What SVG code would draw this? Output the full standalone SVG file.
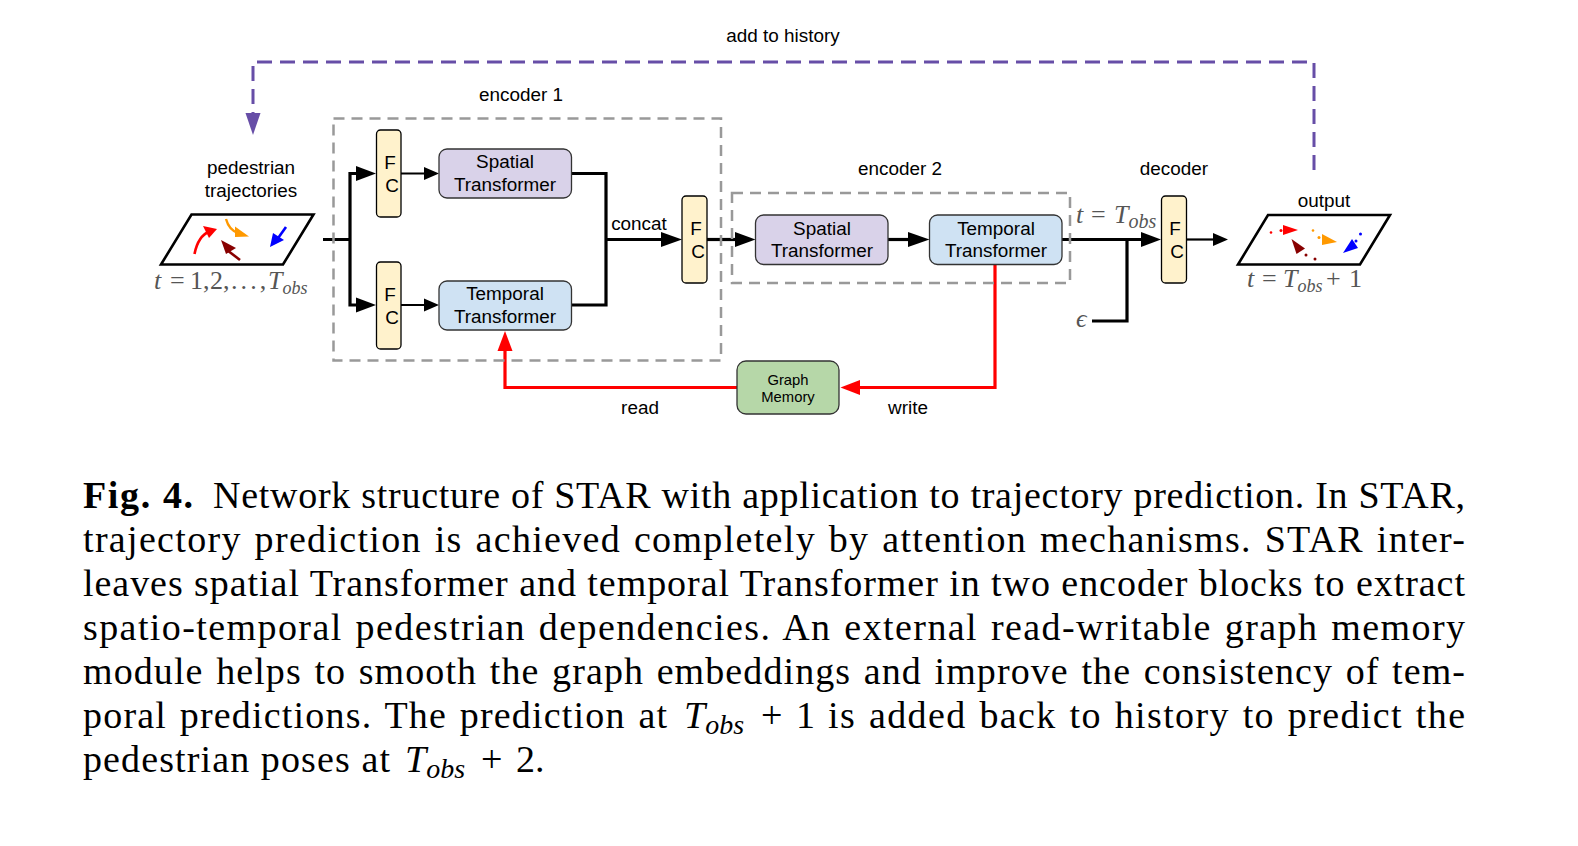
<svg xmlns="http://www.w3.org/2000/svg" width="1578" height="846" viewBox="0 0 1578 846">
<style>
.l{font-family:"Liberation Sans",Arial,sans-serif;font-size:18.9px;fill:#000;text-anchor:middle}
.s{font-size:14.8px}
.m{font-family:"Liberation Serif","Times New Roman",serif;font-size:26px;fill:#555}
.i{font-style:italic}
.c{font-family:"Liberation Serif","Times New Roman",serif;font-size:38px;fill:#000}
.w{word-spacing:2px}
.ci{font-style:italic}
.fc{fill:#fff2cc;stroke:#000;stroke-width:1.3}
.st{fill:#d9d2e9;stroke:#333;stroke-width:1.3}
.tt{fill:#cfe2f3;stroke:#333;stroke-width:1.3}
.gm{fill:#b6d7a8;stroke:#333;stroke-width:1.3}
.dash{fill:none;stroke:#999;stroke-width:2.5;stroke-dasharray:11 7}
.k{fill:none;stroke:#000;stroke-width:3.2}
.k2{fill:none;stroke:#000;stroke-width:2.2}
.r{fill:none;stroke:#f00;stroke-width:3.2}
.p{fill:none;stroke:#674ea7;stroke-width:3;stroke-dasharray:15 8}
.pg{fill:#fff;stroke:#000;stroke-width:2.6}
</style>
<rect width="1578" height="846" fill="#fff"/>
<g id="connectors">
<path class="p" d="M1314 170V62H253V116"/>
<polygon points="253,135 245.500,113 260.500,113" fill="#674ea7"/>
<path class="k" d="M323 239.500H350M356 173.500H350V305H356"/>
<polygon points="376,173.500 356,166 356,181" fill="#000"/>
<polygon points="376,305 356,297.500 356,312.500" fill="#000"/>
<path class="k2" d="M401 173.500H425M401 305H425"/>
<polygon points="439,173.500 424,167 424,180" fill="#000"/>
<polygon points="439,305 424,298.500 424,311.500" fill="#000"/>
<path class="k" d="M571.500 173.500H606V305H571.500M606 239.500H664"/>
<polygon points="682,239.500 661,232 661,247" fill="#000"/>
<path class="k" d="M707 239.500H738"/>
<polygon points="755.500,239.500 735,232 735,247" fill="#000"/>
<path class="k" d="M888 239.500H910"/>
<polygon points="929.500,239.500 908,232 908,247" fill="#000"/>
<path class="k" d="M1062 239.500H1143M1092 321H1127V239.500"/>
<polygon points="1161,239.500 1141,232 1141,247" fill="#000"/>
<path class="k2" d="M1186 239.500H1215"/>
<polygon points="1228,239.500 1213,233 1213,246" fill="#000"/>
<path class="r" d="M995 264V387.500H858"/>
<polygon points="840.500,387.500 860,380 860,395" fill="#f00"/>
<path class="r" d="M737 387.500H505V349"/>
<polygon points="505,331 497.500,351 512.500,351" fill="#f00"/>
</g>
<g id="encoder1"><rect class="dash" x="333.500" y="118.500" width="387.500" height="242"/><text class="l" x="521" y="101">encoder 1</text></g>
<g id="encoder2"><rect class="dash" x="732" y="193" width="338" height="90"/><text class="l" x="900" y="175">encoder 2</text></g>
<g id="input">
<polygon class="pg" points="191.500,214.500 313.500,214.500 283,264.500 161,264.500"/>
<text class="l" x="251" y="174">pedestrian</text>
<text class="l" x="251" y="197">trajectories</text>
<path d="M194.500 254Q198 236 210 231" fill="none" stroke="#f00" stroke-width="2.600"/>
<polygon points="217,229 203,226 209,238" fill="#f00"/>
<path d="M226 219Q229 230 238 233" fill="none" stroke="#f90" stroke-width="2.400"/>
<polygon points="249,236.500 235,226.500 235,237" fill="#f90"/>
<path d="M286 227L276 241" fill="none" stroke="#00f" stroke-width="2.600"/>
<polygon points="270,247 273,233 284,240" fill="#00f"/>
<path d="M240 260L227 250" fill="none" stroke="#800" stroke-width="2.600"/>
<polygon points="221,240 236,248 226,254" fill="#800"/>
<text class="m" x="154" y="289"><tspan class="i">t</tspan><tspan x="170">=</tspan><tspan x="190">1,</tspan><tspan x="210">2,</tspan><tspan x="231" letter-spacing="-1.700">. . . ,</tspan><tspan class="i" x="268">T</tspan><tspan class="i" font-size="18" dy="5">obs</tspan></text>
</g>
<g id="fc1"><rect class="fc" x="376.500" y="130" width="24.500" height="87" rx="4"/><text class="l" x="390" y="169">F</text><text class="l" x="392" y="192">C</text></g>
<g id="fc2"><rect class="fc" x="376.500" y="262" width="24.500" height="87" rx="4"/><text class="l" x="390" y="300.500">F</text><text class="l" x="392" y="323.500">C</text></g>
<g id="fc3"><rect class="fc" x="682" y="196" width="25" height="87" rx="4"/><text class="l" x="696" y="235">F</text><text class="l" x="698" y="258">C</text></g>
<g id="fc4"><rect class="fc" x="1161.500" y="196" width="25" height="87" rx="4"/><text class="l" x="1175" y="235">F</text><text class="l" x="1177" y="258">C</text></g>
<g id="spatial1"><rect class="st" x="439" y="149" width="132.500" height="49" rx="8"/><text class="l" x="505" y="168">Spatial</text><text class="l" x="505" y="191">Transformer</text></g>
<g id="temporal1"><rect class="tt" x="439" y="281" width="132.500" height="49" rx="8"/><text class="l" x="505" y="300">Temporal</text><text class="l" x="505" y="323">Transformer</text></g>
<g id="spatial2"><rect class="st" x="755.500" y="215" width="132.500" height="49.500" rx="8"/><text class="l" x="822" y="235">Spatial</text><text class="l" x="822" y="257">Transformer</text></g>
<g id="temporal2"><rect class="tt" x="929.500" y="215" width="132.500" height="49.500" rx="8"/><text class="l" x="996" y="235">Temporal</text><text class="l" x="996" y="257">Transformer</text></g>
<g id="graph-memory"><rect class="gm" x="737" y="361" width="102" height="53" rx="9"/><text class="l s" x="788" y="385">Graph</text><text class="l s" x="788" y="402">Memory</text></g>
<g id="output">
<polygon class="pg" points="1268,215 1390,215 1360,264.500 1238,264.500"/>
<text class="l" x="1324" y="207">output</text>
<polygon points="1298,230 1283,225 1283,235" fill="#f00"/><circle cx="1271" cy="232.500" r="1.300" fill="#f00"/><circle cx="1281" cy="230.500" r="1.500" fill="#f00"/>
<polygon points="1337,242 1322,234 1322,245" fill="#f90"/><circle cx="1313" cy="230.500" r="1.300" fill="#f90"/><circle cx="1319" cy="237.500" r="1.500" fill="#f90"/>
<polygon points="1291.500,239 1305,248.500 1296.500,254" fill="#800"/><circle cx="1306" cy="255" r="1.500" fill="#800"/><circle cx="1315" cy="259" r="1.500" fill="#800"/>
<polygon points="1343,253 1352,239 1358,248" fill="#00f"/><circle cx="1360.500" cy="234" r="1.500" fill="#00f"/><circle cx="1356" cy="241" r="1.500" fill="#00f"/>
<text class="m" x="1247" y="287"><tspan class="i">t</tspan><tspan x="1262">=</tspan><tspan class="i" x="1283">T</tspan><tspan class="i" font-size="18" dy="5">obs</tspan><tspan dy="-5" x="1326">+</tspan><tspan x="1349">1</tspan></text>
</g>
<g id="labels">
<text class="l" x="783" y="42">add to history</text>
<text class="l" x="1174" y="175">decoder</text>
<text class="l" x="639" y="230">concat</text>
<text class="l" x="640" y="414">read</text>
<text class="l" x="908" y="414">write</text>
<text class="m" x="1076" y="223"><tspan class="i">t</tspan><tspan x="1091">=</tspan><tspan class="i" x="1114">T</tspan><tspan class="i" font-size="20" dy="5">obs</tspan></text>
<text class="m i" x="1076" y="327">ϵ</text>
</g>
<g id="caption">
<text class="c" x="83" y="507.500" font-weight="bold" textLength="110" lengthAdjust="spacing">Fig. 4.</text>
<text class="c" x="213" y="507.500" textLength="1252" lengthAdjust="spacing">Network structure of STAR with application to trajectory prediction. In STAR,</text>
<text class="c w" x="83" y="551.500" textLength="1382" lengthAdjust="spacing">trajectory prediction is achieved completely by attention mechanisms. STAR inter-</text>
<text class="c" x="83" y="595.500" textLength="1382" lengthAdjust="spacing">leaves spatial Transformer and temporal Transformer in two encoder blocks to extract</text>
<text class="c w" x="83" y="639.500" textLength="1382" lengthAdjust="spacing">spatio-temporal pedestrian dependencies. An external read-writable graph memory</text>
<text class="c w" x="83" y="683.500" textLength="1382" lengthAdjust="spacing">module helps to smooth the graph embeddings and improve the consistency of tem-</text>
<text class="c w" x="83" y="727.500" textLength="584" lengthAdjust="spacing">poral predictions. The prediction at</text>
<text class="c ci" x="684" y="727.500">T<tspan font-size="28" dy="6">obs</tspan></text>
<text class="c" x="761" y="727.500">+</text><text class="c" x="796" y="727.500">1</text>
<text class="c w" x="828" y="727.500" textLength="637" lengthAdjust="spacing">is added back to history to predict the</text>
<text class="c" x="83" y="771.500" textLength="307" lengthAdjust="spacing">pedestrian poses at</text>
<text class="c ci" x="405" y="771.500">T<tspan font-size="28" dy="6">obs</tspan></text>
<text class="c" x="481" y="771.500">+</text><text class="c" x="516" y="771.500">2.</text>
</g>
</svg>
